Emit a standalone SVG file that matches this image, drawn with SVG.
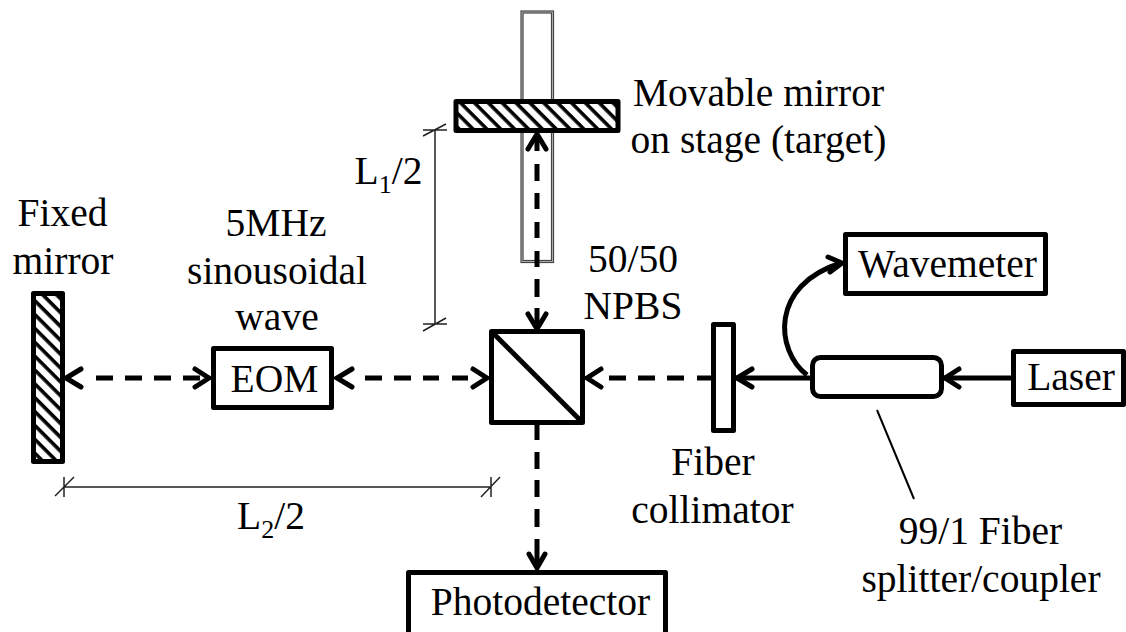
<svg xmlns="http://www.w3.org/2000/svg" width="1126" height="632" viewBox="0 0 1126 632">
<style>
text{font-family:"Liberation Serif","Times New Roman",serif;font-size:39.5px;fill:#000;text-anchor:middle}
.box{fill:#fff;stroke:#000;stroke-width:5;stroke-linejoin:round}
.hat{fill:url(#hatch);stroke:#000;stroke-width:5;stroke-linejoin:round}
.dash{fill:none;stroke:#000;stroke-width:5}
.solid{fill:none;stroke:#000;stroke-width:5}
.thin{fill:none;stroke:#222;stroke-width:1.5}
.head{fill:none;stroke:#000;stroke-width:5;stroke-linecap:round;stroke-linejoin:miter}
</style>
<defs>
<pattern id="hatch" patternUnits="userSpaceOnUse" width="9.8" height="9.8" patternTransform="rotate(45)">
<rect width="9.8" height="9.8" fill="#fff"/><rect width="9.8" height="3.6" fill="#000"/>
</pattern>
</defs>
<g id="stage">
<rect x="522" y="12" width="30.5" height="249.5" fill="#fff" stroke="#444" stroke-width="3.2"/>
<rect x="522" y="12" width="30.5" height="249.5" fill="none" stroke="#aaa" stroke-width="1"/>
</g>
<g id="movable-mirror"><rect class="hat" x="456" y="101.5" width="162" height="29"/></g>
<g id="fixed-mirror"><rect class="hat" x="33.5" y="293.5" width="29" height="168"/></g>
<g id="eom"><rect class="box" x="213.5" y="348.5" width="118" height="59"/><text x="274.5" y="392">EOM</text></g>
<g id="npbs"><rect class="box" x="491.5" y="331.5" width="91" height="91"/><line class="solid" x1="491.5" y1="331.5" x2="582.5" y2="422.5"/></g>
<g id="collimator"><rect class="box" x="713.5" y="324.5" width="20" height="106"/></g>
<g id="coupler"><rect class="box" x="812.5" y="357.5" width="129" height="39" rx="8"/></g>
<g id="wavemeter"><rect class="box" x="845.5" y="234.5" width="200" height="59"/><text x="947.5" y="277">Wavemeter</text></g>
<g id="laser"><rect class="box" x="1013.5" y="351.5" width="110" height="53"/><text x="1071" y="390">Laser</text></g>
<g id="photodetector"><rect class="box" x="408.5" y="572.5" width="257" height="70"/><text x="540.5" y="615">Photodetector</text></g>
<g id="connectors">
<path class="dash" d="M537 135V151M537 164V181M537 193V209M537 222V238M537 251V267M537 279V297M537 308V329"/>
<path class="dash" d="M96 378H113M125 378H142M154 378H171M183 378H200"/>
<path class="dash" d="M365 378H382M394 378H411M423 378H439M452 378H468"/>
<path class="dash" d="M609 378H626M638 378H655M667 378H684M697 378H711"/>
<path class="dash" d="M537 425V440M537 452V469M537 480V497M537 509V527M537 539V567"/>
<path class="solid" d="M736 378H810"/>
<path class="solid" d="M944 378H1011"/>
<path class="solid" d="M807 375C775 350 770 285 841 263"/>
<path class="head" d="M528 149L537 134L546 149"/>
<path class="head" d="M528 314L537 329L546 314"/>
<path class="head" d="M81 369L66 378L81 387"/>
<path class="head" d="M195 369L209 378L195 387"/>
<path class="head" d="M352 369L337 378L352 387"/>
<path class="head" d="M473 369L487 378L473 387"/>
<path class="head" d="M601 369L587 378L601 387"/>
<path class="head" d="M752 369L737 378L752 387"/>
<path class="head" d="M959 369L945 378L959 387"/>
<path class="head" d="M529 554L537 568L545 554"/>
<path class="head" d="M828 257L842 263L830 272"/>
<path fill="none" stroke="#000" stroke-width="2" d="M877 410L914 499"/>
<path class="thin" d="M435 130V324M423 130H447M423 324H447M423 136L446 124M423 331L446 318"/>
<path class="thin" d="M64 487H491M64 477V497M491 477V497M55 496L74 477M481 497L500 477"/>
</g>
<g id="labels">
<text x="758.5" y="106">Movable mirror</text>
<text x="758.5" y="153">on stage (target)</text>
<text x="388.5" y="184">L<tspan font-size="26" dy="9">1</tspan><tspan dy="-9">/2</tspan></text>
<text x="62.5" y="226">Fixed</text>
<text x="63" y="274">mirror</text>
<text x="276" y="236">5MHz</text>
<text x="277" y="284">sinousoidal</text>
<text x="277" y="330">wave</text>
<text x="633" y="272">50/50</text>
<text x="633" y="319">NPBS</text>
<text x="713" y="475">Fiber</text>
<text x="712.5" y="523">collimator</text>
<text x="271" y="529">L<tspan font-size="26" dy="9">2</tspan><tspan dy="-9">/2</tspan></text>
<text x="980.5" y="544">99/1 Fiber</text>
<text x="981" y="592">splitter/coupler</text>
</g>
</svg>
